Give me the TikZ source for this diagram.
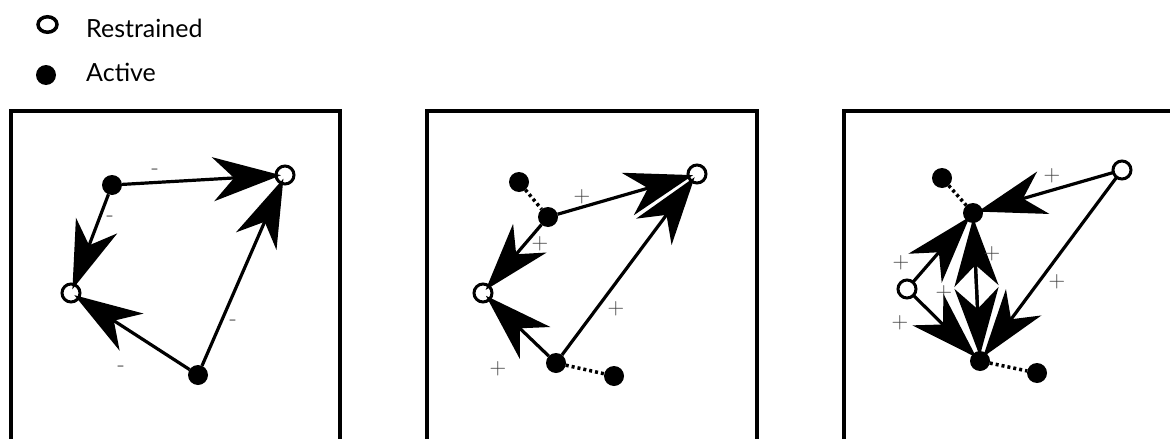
\documentclass[tikz,border=0pt]{standalone}
\usepackage{fontspec}
\newfontfamily\legendfont{Lato}
\usetikzlibrary{arrows.meta,shapes.geometric}
\begin{document}
\begin{tikzpicture}[x=1pt,y=-1pt,
  restr/.style={circle,draw,line width=3pt,minimum size=18pt,inner sep=0pt,outer sep=0pt,fill=none},
  act/.style={circle,fill,minimum size=20pt,inner sep=0pt,outer sep=0pt},
  link/.style={line width=3.2pt,-{Stealth[length=68pt,width=44pt,inset=21pt]},shorten >=-5pt},
  tie/.style={line width=3.5pt,dash pattern=on 3pt off 3pt},
  sign/.style={font=\fontsize{23}{23}\selectfont,text=black!75,inner sep=0pt},
  frame/.style={line width=4pt},
  legend/.style={font=\legendfont\fontsize{25}{25}\selectfont,anchor=base west,inner sep=0pt}]
\useasboundingbox (0,0) rectangle (1170,439);
% legend
\node[ellipse,draw,line width=3.5pt,minimum width=19pt,minimum height=15.5pt,inner sep=0pt] (lr) at (47.5,24.5) {};
\node[act] (la) at (46,75) {};
\node[legend] (lrt) at (86,37) {Restrained};
\node[legend] (lat) at (86,81) {Active};
% frames
\draw[frame] (10.5,445) -- (10.5,111) -- (340.3,111) -- (340.3,445);
\draw[frame] (427,445) -- (427,111) -- (757,111) -- (757,445);
\draw[frame] (843.7,445) -- (843.7,111) -- (1173.5,111) -- (1173.5,445);
% panel 1
\node[act] (pA) at (112,185) {};
\node[restr] (pR1) at (285,175) {};
\node[restr] (pR2) at (71,293) {};
\node[act] (pB) at (198,375) {};
\draw[link] (pA) -- (pR1);
\draw[link] (pA) -- (pR2);
\draw[link] (pB) -- (pR2);
\draw[link] (pB) -- (pR1);
\node[sign] at (155,172) {-};
\node[sign] at (110,219) {-};
\node[sign] at (121,369) {-};
\node[sign] at (233,323) {-};
% panel 2
\node[act] (qa1) at (519,182) {};
\node[act] (qa2) at (548,217) {};
\node[restr] (qR1) at (697,174) {};
\node[restr] (qR2) at (483,293) {};
\node[act] (qa3) at (556,363) {};
\node[act] (qa4) at (614,376) {};
\draw[tie] (qa1) -- (qa2);
\draw[tie] (qa3) -- (qa4);
\draw[link] (qa2) -- (qR1);
\draw[link] (qa2) -- (qR2);
\draw[link] (qa3) -- (qR2);
\draw[link] (qa3) -- (qR1);
\node[sign] at (582,197) {+};
\node[sign] at (540,244) {+};
\node[sign] at (498,369) {+};
\node[sign] at (616,309) {+};
% panel 3
\node[act] (rb1) at (942,178) {};
\node[act] (rb2) at (973,213) {};
\node[restr] (rR1) at (1122,170) {};
\node[restr] (rR2) at (907,289) {};
\node[act] (rb3) at (980,361) {};
\node[act] (rb4) at (1037,373) {};
\draw[tie] (rb1) -- (rb2);
\draw[tie] (rb3) -- (rb4);
\draw[link] (rR1) -- (rb2);
\draw[link] (rR2) -- (rb2);
\draw[link] (rb3) -- (rb2);
\draw[link] (rb2) -- (rb3);
\draw[link] (rR2) -- (rb3);
\draw[link] (rR1) -- (rb3);
\node[sign] at (1052,176) {+};
\node[sign] at (901,263) {+};
\node[sign] at (900,323) {+};
\node[sign] at (992,254) {+};
\node[sign] at (944,293) {+};
\node[sign] at (1057,282) {+};
\end{tikzpicture}
\end{document}
